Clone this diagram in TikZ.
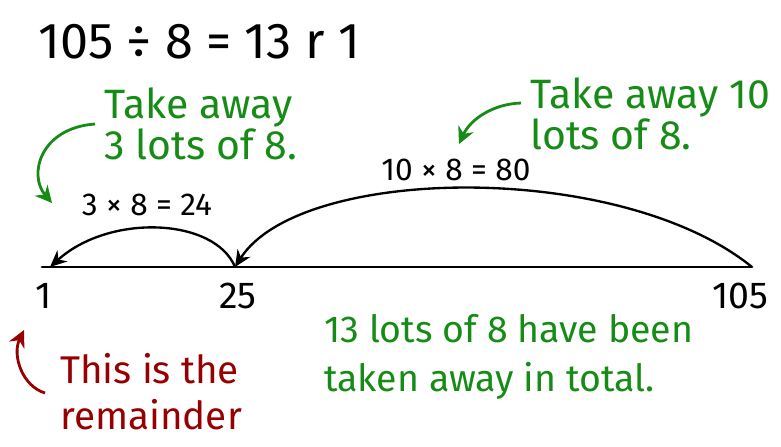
\documentclass[tikz,border=0pt]{standalone}
\usepackage{fontspec}
\setmainfont{Fira Sans}
\usepackage{xcolor}
\usetikzlibrary{arrows.meta,positioning}

\definecolor{notegreen}{RGB}{22,140,22}
\definecolor{notered}{RGB}{150,0,0}

\begin{document}
\begin{tikzpicture}[
    x=0.03cm, y=-0.03cm,
    numline/.style={line width=2.4pt, line cap=round},
    jump/.style={-{Stealth[length=5mm,width=4.5mm]}, line width=2pt},
    pointer/.style={-{Stealth[length=5mm,width=5mm]}, line width=2.4pt},
    green note/.style={text=notegreen, align=left, font=\fontsize{35}{32}\selectfont, inner sep=0pt},
    red note/.style={text=notered, align=left, font=\fontsize{33}{39}\selectfont, inner sep=0pt},
    numlabel/.style={font=\fontsize{32}{34}\selectfont, inner sep=0pt},
    calc/.style={font=\fontsize{27}{29}\selectfont, inner sep=0pt}
]
\useasboundingbox (0,0) rectangle (781,446);

% title
\node[anchor=west, font=\fontsize{43}{46}\selectfont, inner sep=0pt] (title) at (38,42) {105 ÷ 8 = 13 r 1};

% number line
\coordinate (lineL) at (42,267);
\coordinate (p1) at (50,267);
\coordinate (p25) at (235,267);
\coordinate (p105) at (752,267);
\draw[numline] (lineL) -- (p105);

\node[numlabel] (lab1) at (44,296) {1};
\node[numlabel] (lab25) at (238,296) {25};
\node[numlabel] (lab105) at (740,296) {105};

% jumps back
\draw[jump] (p25) .. controls (215,218) and (110,213) .. (p1);
\draw[jump] (p105) .. controls (620,160) and (300,165) .. (p25);

\node[calc] (calc24) at (147,205) {3 × 8 = 24};
\node[calc] (calc80) at (456,170) {10 × 8 = 80};

% notes
\node[green note, anchor=north west] (take3) at (104,88) {Take away\\3 lots of 8.};
\node[green note, anchor=north west] (take10) at (530,78) {Take away 10\\lots of 8.};
\node[green note, anchor=north west, font=\fontsize{32}{42}\selectfont] (total) at (324,314) {13 lots of 8 have been\\taken away in total.};
\node[red note, anchor=north west] (rem) at (60,353) {This is the\\remainder};

\coordinate (from3) at (95,124);
\coordinate (to3) at (52,203);
\coordinate (from10) at (521,103);
\coordinate (to10) at (459,144);
\coordinate (fromrem) at (45,393);
\coordinate (torem) at (24,330);

\draw[pointer, notegreen] (from3) .. controls (40,128) and (28,175) .. (to3);
\draw[pointer, notegreen] (from10) .. controls (492,104) and (470,120) .. (to10);
\draw[pointer, notered] (fromrem) .. controls (22,386) and (12,355) .. (torem);
\end{tikzpicture}
\end{document}
